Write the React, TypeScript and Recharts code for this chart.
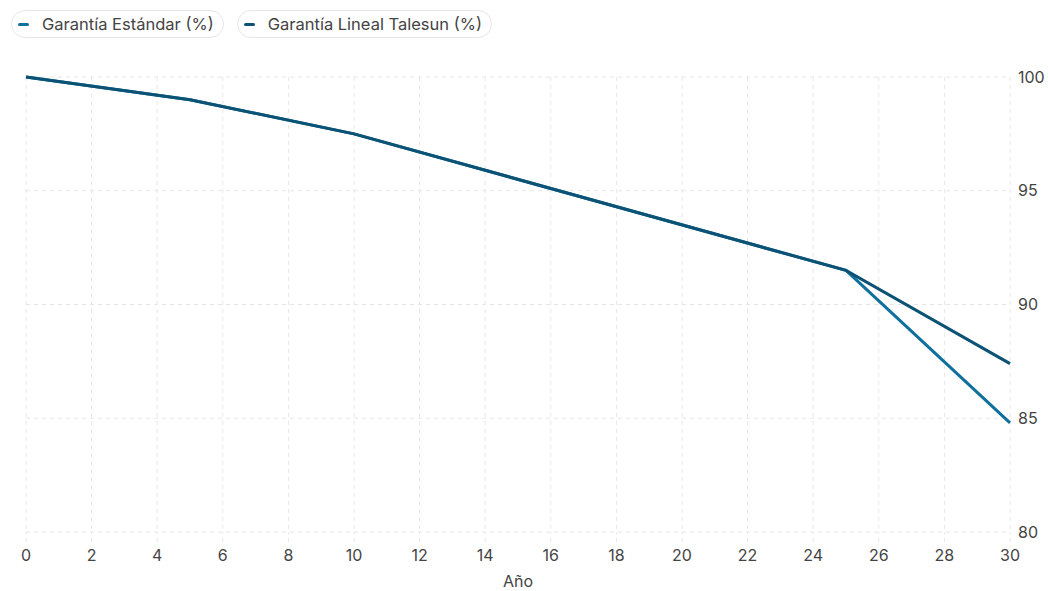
import { LineChart, Line, XAxis, YAxis, CartesianGrid } from 'recharts';

const years = [0, 5, 10, 25, 30];
const standardPct = [100, 99, 97.5, 91.5, 84.8];
const talesunPct = [100, 99, 97.5, 91.5, 87.4];
const xTicks = [0, 2, 4, 6, 8, 10, 12, 14, 16, 18, 20, 22, 24, 26, 28, 30];
const yTicks = [80, 85, 90, 95, 100];

const STD_COLOR = '#0f6f9d';
const TAL_COLOR = '#0c5275';
const FONT = 'Inter, "Noto Sans", sans-serif';

const series = [
  { key: 'standard', name: 'Garantía Estándar (%)', color: STD_COLOR },
  { key: 'talesun', name: 'Garantía Lineal Talesun (%)', color: TAL_COLOR },
];

const data = years.map((y, i) => ({ year: y, standard: standardPct[i], talesun: talesunPct[i] }));

function LegendPills() {
  return (
    <div style={{ position: 'absolute', left: 11, top: 10, display: 'flex', gap: 13 }}>
      {series.map((s) => (
        <div
          key={s.key}
          style={{
            display: 'flex',
            alignItems: 'center',
            height: 26,
            padding: '0 9px 0 6px',
            border: '1px solid #e6e6e6',
            borderRadius: 14,
            fontFamily: FONT,
            fontSize: 16.5,
            color: '#444',
          }}
        >
          <span style={{ display: 'inline-block', width: 11, height: 3, borderRadius: 2, background: s.color, marginRight: 13 }} />
          <span>{s.name}</span>
        </div>
      ))}
    </div>
  );
}

export default function App() {
  return (
    <div style={{ position: 'absolute', left: 0, top: 0, width: 1048, height: 591, background: '#fff' }}>
      <LegendPills />
      <LineChart width={1048} height={591} data={data} margin={{ top: 77, right: 0, bottom: 0, left: 26 }}>
        <CartesianGrid stroke="#e6e6e6" strokeDasharray="4 4" />
        <XAxis
          dataKey="year"
          type="number"
          domain={[0, 30]}
          ticks={xTicks}
          interval={0}
          axisLine={false}
          tickLine={{ stroke: '#e6e6e6', strokeDasharray: '4 4' }}
          tickSize={10}
          tickMargin={8}
          height={59}
          tick={{ fill: '#444', fontSize: 16, fontFamily: FONT }}
          label={{ value: 'Año', position: 'insideBottom', offset: 4, fill: '#444', fontSize: 16, fontFamily: FONT }}
        />
        <YAxis
          orientation="right"
          domain={[80, 100]}
          ticks={yTicks}
          interval={0}
          axisLine={false}
          tickLine={false}
          tickSize={0}
          tickMargin={8}
          width={38}
          tick={{ fill: '#444', fontSize: 16, fontFamily: FONT, textAnchor: 'start' }}
        />
        <Line
          type="linear"
          dataKey="standard"
          name={series[0].name}
          stroke={STD_COLOR}
          strokeWidth={3}
          dot={false}
          isAnimationActive={false}
        />
        <Line
          type="linear"
          dataKey="talesun"
          name={series[1].name}
          stroke={TAL_COLOR}
          strokeWidth={3}
          dot={false}
          isAnimationActive={false}
        />
      </LineChart>
    </div>
  );
}
